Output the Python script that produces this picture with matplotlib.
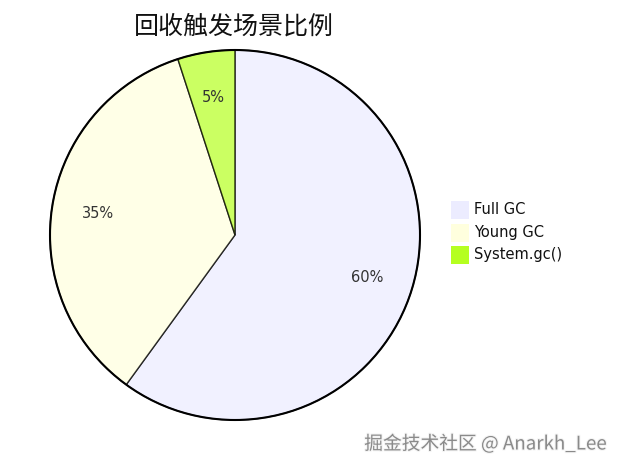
import matplotlib
matplotlib.use("Agg")
import matplotlib.pyplot as plt
from matplotlib.patches import Circle, Rectangle
import matplotlib.patheffects as pe

plt.rcParams['font.family'] = ['DejaVu Sans', 'Noto Sans CJK SC']

title = "回收触发场景比例"
categories = ["Full GC", "Young GC", "System.gc()"]
values = [60, 35, 5]
colors = ["#ECECFF", "#FFFFDE", "#B5FF20"]
watermark = "掘金技术社区 @ Anarkh_Lee"

W, H = 621, 470
fig = plt.figure(figsize=(W / 100, H / 100), dpi=100)
ax = fig.add_axes([0, 0, 1, 1])

cx, cy, r = 235, H - 235, 185
wedges, texts, autotexts = ax.pie(
    values, colors=colors, startangle=90, counterclock=False,
    center=(cx, cy), radius=r, autopct='%1.0f%%', pctdistance=0.75,
    wedgeprops=dict(edgecolor='black', linewidth=1.0, alpha=0.7),
    textprops=dict(fontsize=10.5, color='#333333'))
for w in wedges:
    w.set_edgecolor((0, 0, 0, 1))
ax.add_patch(Circle((cx, cy), r, fill=False, edgecolor='black', linewidth=1.5, zorder=5))

ax.set_xlim(0, W)
ax.set_ylim(0, H)
ax.set_aspect('equal')
ax.axis('off')

ax.text(234, H - 27, title, fontsize=18, ha='center', va='center',
        family=['Noto Sans CJK SC', 'DejaVu Sans'], color='#111111')

# legend
for i, (cat, col) in enumerate(zip(categories, colors)):
    yc = H - (210 + i * 22.5)
    ax.add_patch(Rectangle((451, yc - 9), 18, 18, facecolor=col, edgecolor='none'))
    ax.text(474, yc, cat, fontsize=10.5, ha='left', va='center', color='#111111')

ax.text(607, H - 444, watermark, fontsize=13.5, ha='right', va='center',
        family=['Noto Sans CJK SC', 'DejaVu Sans'], color='#8a8a8a',
        path_effects=[pe.withStroke(linewidth=1.5, foreground='#f4f4f4')])

fig.savefig("out.png", dpi=100)
